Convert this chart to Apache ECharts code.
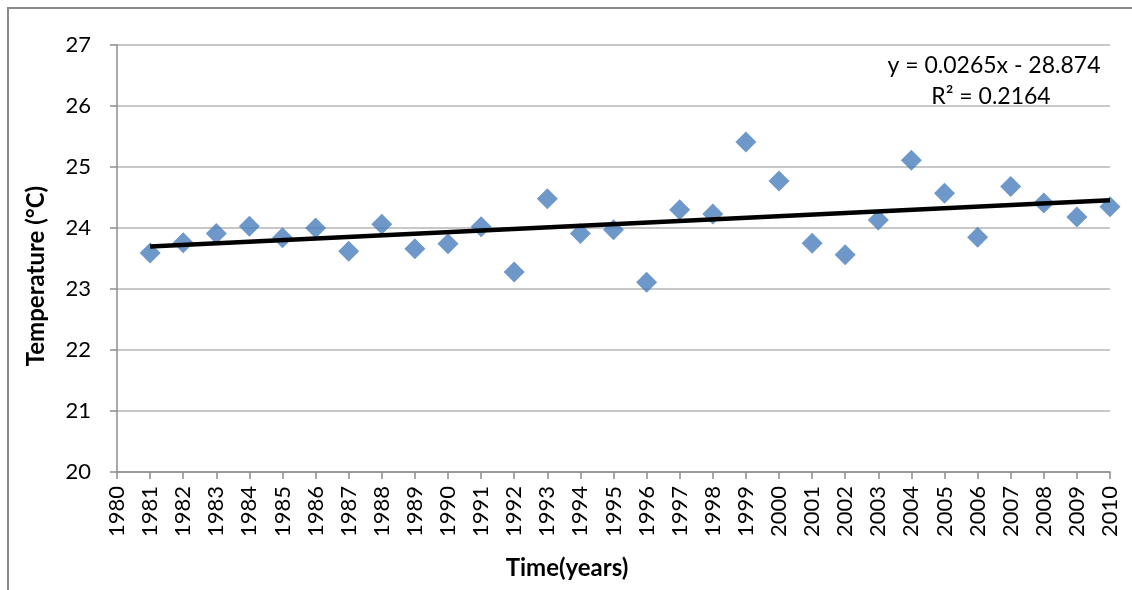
<!DOCTYPE html>
<html>
<head>
<meta charset="utf-8">
<script src="https://cdn.jsdelivr.net/npm/echarts@6/dist/echarts.min.js"></script>
<style>
  html, body { margin: 0; padding: 0; background: #fff; }
  #chart { width: 1132px; height: 590px; }
</style>
</head>
<body>
<div id="chart"></div>
<script>
// Annual mean temperature, 1981–2010
const years = [1981, 1982, 1983, 1984, 1985, 1986, 1987, 1988, 1989, 1990,
               1991, 1992, 1993, 1994, 1995, 1996, 1997, 1998, 1999, 2000,
               2001, 2002, 2003, 2004, 2005, 2006, 2007, 2008, 2009, 2010];
const temps = [23.59, 23.76, 23.91, 24.03, 23.84, 24.00, 23.62, 24.06, 23.66, 23.74,
               24.02, 23.28, 24.48, 23.91, 23.97, 23.11, 24.30, 24.23, 25.41, 24.77,
               23.75, 23.56, 24.13, 25.11, 24.57, 23.85, 24.68, 24.41, 24.18, 24.35];
const equationText = 'y = 0.0265x - 28.874';
const r2Text = 'R² = 0.2164';
const xTitle = 'Time(years)';
const yTitle = 'Temperature (°C)';

// Least-squares linear trend over the observations
const n = years.length;
const mx = years.reduce((a, b) => a + b, 0) / n;
const my = temps.reduce((a, b) => a + b, 0) / n;
let sxy = 0, sxx = 0;
for (let i = 0; i < n; i++) {
  sxy += (years[i] - mx) * (temps[i] - my);
  sxx += (years[i] - mx) * (years[i] - mx);
}
const slope = sxy / sxx;
const intercept = my - slope * mx;
const x0 = years[0], x1 = years[n - 1];
const trend = [[x0, intercept + slope * x0], [x1, intercept + slope * x1]];

const font = 'Lato, Calibri, "Open Sans", sans-serif';
const chart = echarts.init(document.getElementById('chart'));
chart.setOption({
  animation: false,
  backgroundColor: '#fff',
  grid: { left: 117, right: 22, top: 45, bottom: 118, containLabel: false },
  xAxis: {
    type: 'value', min: 1980, max: 2010, interval: 1,
    axisLine: { show: true, lineStyle: { color: '#8c8c8c', width: 1.5 } },
    axisTick: { show: true, length: 7, lineStyle: { color: '#8c8c8c', width: 1.5 } },
    axisLabel: { rotate: 90, margin: 14, fontFamily: font, fontSize: 22, color: '#000',
                 formatter: v => String(v) },
    splitLine: { show: false }
  },
  yAxis: {
    type: 'value', min: 20, max: 27, interval: 1,
    axisLine: { show: true, lineStyle: { color: '#8c8c8c', width: 1.5 } },
    axisTick: { show: true, length: 7, lineStyle: { color: '#8c8c8c', width: 1.5 } },
    axisLabel: { margin: 26, fontFamily: font, fontSize: 22, color: '#000' },
    splitLine: { show: true, lineStyle: { color: '#b4b4b4', width: 1.5 } }
  },
  series: [
    {
      type: 'scatter',
      data: years.map((y, i) => [y, temps[i]]),
      symbol: 'diamond',
      symbolSize: [21, 21],
      itemStyle: { color: '#4a7ebb' },
      z: 3
    },
    {
      type: 'line',
      data: trend,
      symbol: 'none',
      lineStyle: { color: '#000', width: 4.5 },
      z: 4
    }
  ],
  graphic: [
    { type: 'line', shape: { x1: 8, y1: 8, x2: 8, y2: 590 }, style: { stroke: '#8a8a8a', lineWidth: 2 } },
    { type: 'line', shape: { x1: 7, y1: 8, x2: 1132, y2: 8 }, style: { stroke: '#8a8a8a', lineWidth: 2 } },
    { type: 'text', x: 567, y: 568, style: { text: xTitle, fontFamily: font, fontSize: 24,
      fontWeight: 'bold', fill: '#000', align: 'center', verticalAlign: 'middle' } },
    { type: 'text', x: 36, y: 276, rotation: Math.PI / 2, style: { text: yTitle, fontFamily: font,
      fontSize: 24, fontWeight: 'bold', fill: '#000', align: 'center', verticalAlign: 'middle' } },
    { type: 'text', x: 994, y: 66, style: { text: equationText, fontFamily: font, fontSize: 23,
      fill: '#000', align: 'center', verticalAlign: 'middle' } },
    { type: 'text', x: 991, y: 97, style: { text: r2Text, fontFamily: font, fontSize: 23,
      fill: '#000', align: 'center', verticalAlign: 'middle' } }
  ]
});
</script>
</body>
</html>
